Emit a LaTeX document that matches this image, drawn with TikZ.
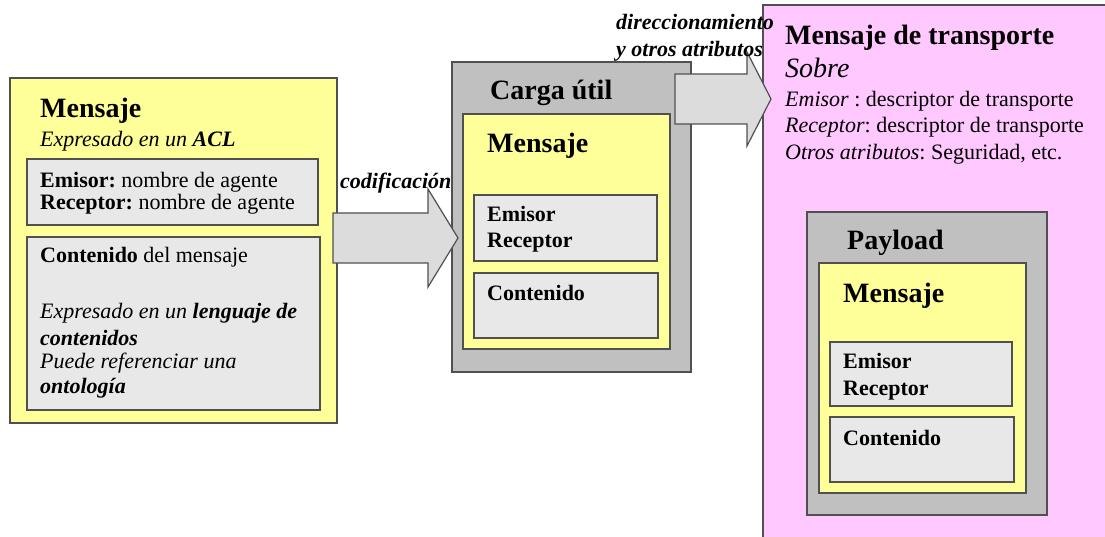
\documentclass[tikz,border=0pt]{standalone}
\usepackage{fontspec}
\setmainfont{Liberation Serif}
\usepackage{tikz}
\usetikzlibrary{calc}

\definecolor{amarillo}{HTML}{FFFF99}
\definecolor{rosa}{HTML}{FFC8FF}
\definecolor{grisclaro}{HTML}{E8E8E8}
\definecolor{grisosc}{HTML}{C0C0C0}
\definecolor{grisflecha}{HTML}{DCDCDC}
\definecolor{borde}{HTML}{505050}
\frenchspacing

\begin{document}
\begin{tikzpicture}
		[x=1pt,y=-1pt,
		caja/.style={draw=borde,line width=1.2pt,anchor=north west,inner sep=0pt,outer sep=0pt},
		amarilla/.style={caja,fill=amarillo},
		gris/.style={caja,fill=grisclaro},
		oscura/.style={caja,fill=grisosc},
		rosada/.style={caja,fill=rosa},
		flecha/.style={draw=borde,line width=1.2pt,fill=grisflecha},
		titulo/.style={anchor=base west,inner sep=0pt,font=\fontsize{28}{32}\selectfont\bfseries},
		texto/.style={anchor=base west,inner sep=0pt,font=\fontsize{22}{26}\selectfont},
		negrita/.style={texto,font=\fontsize{22}{26}\selectfont\bfseries},
		rotulo/.style={texto,font=\fontsize{22}{26}\selectfont\bfseries\itshape}]
		\useasboundingbox (0,0) rectangle (1105,537);
		
		% mensaje ACL
		\node[amarilla,minimum width=327pt,minimum height=345pt] (msg) at (10,78) {};
		\node[titulo] (msgt) at (40,118) {Mensaje};
		\node[texto] (msgs) at (40,147) {\itshape Expresado en un \textbf{ACL}};
		\node[gris,minimum width=291pt,minimum height=66pt] (cab) at (27,159) {};
		\node[texto] (cab1) at (40,188) {\textbf{Emisor:} nombre de agente};
		\node[texto] (cab2) at (40,210) {\textbf{Receptor:} nombre de agente};
		\node[gris,minimum width=293pt,minimum height=173pt] (cont) at (27,237) {};
		\node[texto] (cont1) at (40,263) {\textbf{Contenido} del mensaje};
		\node[texto] (cont2) at (40,318) {\itshape Expresado en un \textbf{lenguaje de}};
		\node[rotulo] (cont3) at (40,345) {contenidos};
		\node[texto] (cont4) at (40,368) {\itshape Puede referenciar una};
		\node[rotulo] (cont5) at (40,393) {ontología};
		
		% carga util
		\node[oscura,minimum width=239pt,minimum height=310pt] (carga) at (452,62) {};
		\node[titulo] (cargat) at (490,100) {Carga útil};
		\node[amarilla,minimum width=207pt,minimum height=235pt] (msg2) at (463,114) {};
		\node[titulo] (msg2t) at (487,153) {Mensaje};
		\node[gris,minimum width=183pt,minimum height=66pt] (cab2b) at (474,195) {};
		\node[negrita] (em2) at (487,222) {Emisor};
		\node[negrita] (re2) at (487,248) {Receptor};
		\node[gris,minimum width=184pt,minimum height=65pt] (cont2b) at (474,273) {};
		\node[negrita] (co2) at (487,300) {Contenido};
		
		% mensaje de transporte
		\node[rosada,minimum width=352pt,minimum height=540pt] (trans) at (763,5) {};
		\node[titulo] (transt) at (785,45) {Mensaje de transporte};
		\node[texto,font=\fontsize{28}{32}\selectfont\itshape] (sobre) at (785,78) {Sobre};
		\node[texto] (sob1) at (785,107) {\textit{Emisor} : descriptor de transporte};
		\node[texto] (sob2) at (785,133) {\textit{Receptor}: descriptor de transporte};
		\node[texto] (sob3) at (785,160) {\textit{Otros atributos}: Seguridad, etc.};
		\node[oscura,minimum width=240pt,minimum height=303pt] (pay) at (807,212) {};
		\node[titulo] (payt) at (847,250) {Payload};
		\node[amarilla,minimum width=207pt,minimum height=230pt] (msg3) at (819,263) {};
		\node[titulo] (msg3t) at (843,302) {Mensaje};
		\node[gris,minimum width=182pt,minimum height=64pt] (cab3) at (830,342) {};
		\node[negrita] (em3) at (843,368) {Emisor};
		\node[negrita] (re3) at (843,395) {Receptor};
		\node[gris,minimum width=184pt,minimum height=65pt] (cont3b) at (830,417) {};
		\node[negrita] (co3) at (843,445) {Contenido};
		
		% flechas
		\coordinate (f1a) at (333,238);
		\coordinate (f1b) at (458,238);
		\draw[flecha] let \p1=(f1a), \p2=(f1b) in
			(\x1,\y1+25pt) -- (\x2-30pt,\y1+25pt) -- (\x2-30pt,\y1+49pt) -- (\x2,\y1)
			-- (\x2-30pt,\y1-49pt) -- (\x2-30pt,\y1-25pt) -- (\x1,\y1-25pt) -- cycle;
		\coordinate (f2a) at (675,99);
		\coordinate (f2b) at (771,99);
		\draw[flecha] let \p1=(f2a), \p2=(f2b) in
			(\x1,\y1+25pt) -- (\x2-24pt,\y1+25pt) -- (\x2-24pt,\y1+47pt) -- (\x2,\y1)
			-- (\x2-24pt,\y1-47pt) -- (\x2-24pt,\y1-25pt) -- (\x1,\y1-25pt) -- cycle;
		
		\node[rotulo] (cod) at (340,189) {codificación};
		\node[rotulo] (dir1) at (616,30) {direccionamiento};
		\node[rotulo] (dir2) at (616,57) {y otros atributos};
\end{tikzpicture}
\end{document}
